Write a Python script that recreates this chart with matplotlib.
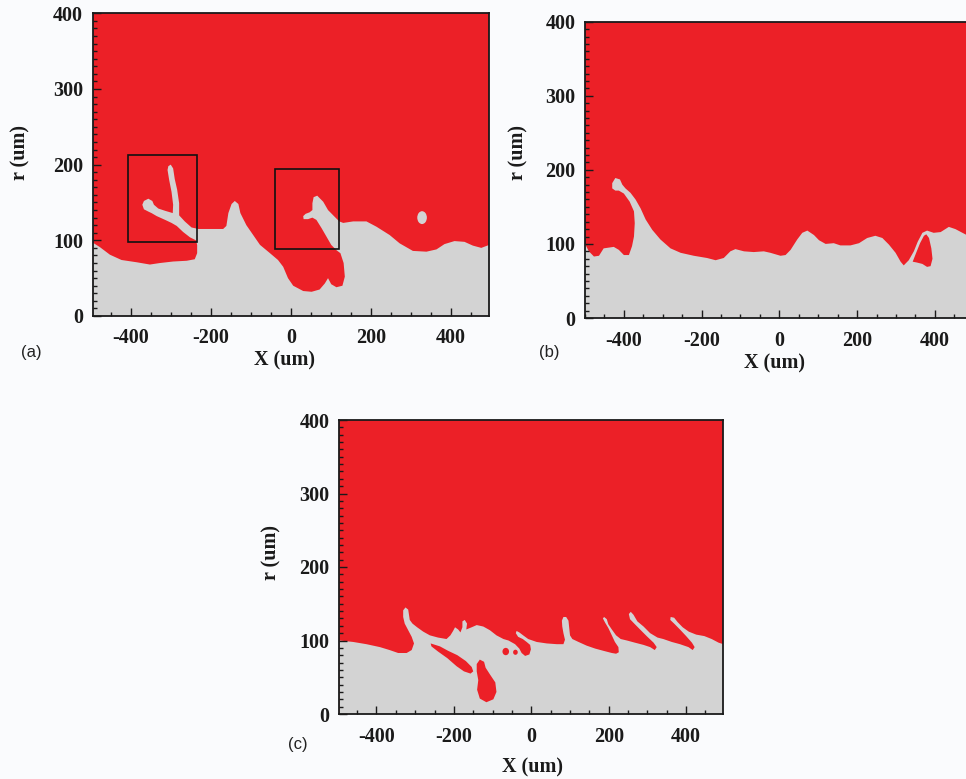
import numpy as np
import matplotlib
matplotlib.use('Agg')
import matplotlib.pyplot as plt
from matplotlib.patches import Ellipse, Rectangle
from matplotlib.ticker import MultipleLocator, FixedLocator

plt.rcParams['font.family'] = ['Liberation Serif', 'DejaVu Serif']
plt.rcParams['font.weight'] = 'bold'
plt.rcParams['axes.unicode_minus'] = False

RED = '#ec2027'
GRAY = '#d3d3d3'
BG = '#fafbfd'

x_ticks = [-400, -200, 0, 200, 400]
y_ticks = [0, 100, 200, 300, 400]
x_label = 'X (um)'
y_label = 'r (um)'
panel_names = ['(a)', '(b)', '(c)']

# ---- panel (a): liquid/gas interface (x, r) in um ----
a_interface = [(-495, 97), (-477, 91), (-452, 81), (-423, 74), (-385, 71), (-352, 68), (-327, 70),
               (-294, 72), (-260, 73), (-240, 75), (-234, 83), (-234, 94), (-237, 100), (-252, 104),
               (-269, 111), (-285, 119), (-298, 123), (-314, 127), (-335, 132), (-348, 136), (-356, 138),
               (-367, 141), (-371, 147), (-367, 152), (-356, 155), (-346, 152), (-342, 147), (-331, 142),
               (-314, 139), (-295, 136), (-294, 147), (-298, 164), (-304, 180), (-308, 193), (-306, 198),
               (-300, 200), (-294, 195), (-290, 181), (-284, 167), (-279, 149), (-279, 133), (-265, 125),
               (-248, 117), (-231, 115), (-194, 115), (-169, 115), (-161, 119), (-156, 136), (-148, 148),
               (-140, 152), (-131, 148), (-126, 136), (-111, 120), (-94, 107), (-77, 94), (-52, 83),
               (-32, 74), (-19, 65), (-7, 50), (6, 40), (31, 33), (52, 32), (72, 35), (85, 43), (93, 50),
               (101, 42), (114, 38), (129, 40), (135, 52), (132, 70), (124, 83), (114, 87), (101, 94),
               (89, 105), (77, 116), (64, 127), (54, 130), (43, 128), (32, 128), (31, 132), (37, 135),
               (47, 137), (54, 140), (54, 149), (57, 157), (66, 159), (81, 151), (93, 140), (106, 133),
               (121, 125), (131, 123), (156, 125), (189, 125), (214, 118), (247, 107), (272, 96),
               (305, 86), (339, 85), (364, 88), (384, 95), (409, 99), (434, 98), (455, 93), (476, 90),
               (496, 94)]
a_drop_center = (328, 130)
a_drop_size = (24, 17)
a_boxes = [(-406, 98, -235, 213), (-40, 88, 121, 194)]

# ---- panel (b) ----
b_interface = [(-500, 100), (-490, 90), (-477, 83), (-464, 84), (-452, 94), (-426, 96), (-413, 92),
               (-400, 85), (-387, 85), (-379, 97), (-374, 110), (-372, 128), (-374, 144), (-385, 157),
               (-400, 168), (-413, 172), (-422, 172), (-430, 175), (-430, 182), (-422, 189), (-410, 187),
               (-404, 180), (-396, 175), (-383, 169), (-370, 160), (-357, 148), (-344, 133), (-327, 119),
               (-306, 106), (-280, 94), (-254, 88), (-220, 84), (-186, 81), (-164, 78), (-143, 81),
               (-126, 90), (-113, 93), (-91, 90), (-66, 89), (-40, 90), (-23, 88), (3, 84), (16, 85),
               (29, 92), (46, 106), (59, 115), (72, 118), (89, 112), (102, 105), (119, 100), (140, 101),
               (157, 98), (183, 98), (205, 101), (226, 108), (247, 111), (265, 108), (282, 99), (299, 88),
               (312, 76), (320, 71), (333, 78), (346, 90), (356, 103), (368, 115), (380, 118), (397, 115),
               (415, 116), (436, 123), (453, 120), (471, 115), (482, 112), (500, 105)]
b_red_drop = [(343, 76), (352, 88), (362, 101), (372, 111), (378, 113), (385, 108), (391, 94),
              (394, 80), (389, 70), (380, 69), (368, 73), (353, 75)]

# ---- panel (c) ----
c_interface = [(-496, 100), (-460, 98), (-426, 95), (-391, 91), (-366, 87), (-344, 83), (-322, 83),
               (-309, 87), (-303, 96), (-309, 105), (-318, 114), (-327, 123), (-331, 132), (-331, 141),
               (-325, 145), (-318, 142), (-316, 135), (-314, 128), (-307, 123), (-295, 118), (-279, 112),
               (-262, 107), (-241, 104), (-219, 102), (-209, 107), (-202, 113), (-197, 118), (-189, 115),
               (-183, 111), (-178, 118), (-178, 126), (-172, 128), (-166, 123), (-168, 115), (-154, 118),
               (-141, 121), (-124, 119), (-107, 114), (-90, 107), (-72, 102), (-59, 100), (-42, 95),
               (-31, 89), (-25, 83), (-16, 79), (-5, 81), (-1, 88), (-3, 94), (-12, 98), (-22, 102),
               (-34, 105), (-40, 110), (-38, 113), (-31, 111), (-21, 107), (-8, 102), (14, 98), (40, 96),
               (66, 95), (83, 95), (87, 101), (83, 110), (80, 119), (79, 127), (83, 132), (90, 132),
               (96, 127), (98, 117), (100, 107), (106, 102), (122, 98), (143, 93), (165, 89), (186, 86),
               (208, 83), (219, 82), (226, 84), (225, 91), (216, 98), (208, 107), (199, 117), (191, 124),
               (185, 130), (188, 132), (195, 129), (199, 122), (208, 115), (219, 107), (231, 102),
               (247, 100), (268, 97), (290, 94), (307, 91), (319, 87), (324, 91), (316, 97), (298, 106),
               (281, 115), (266, 123), (255, 129), (252, 136), (257, 139), (264, 135), (274, 126),
               (290, 119), (307, 110), (326, 104), (341, 102), (363, 98), (384, 95), (406, 91), (417, 87),
               (422, 91), (415, 97), (400, 106), (384, 115), (369, 123), (359, 128), (360, 132), (369, 131),
               (378, 125), (391, 118), (407, 112), (426, 108), (447, 106), (466, 102), (484, 97), (496, 95)]
c_red_streak = [(-260, 96), (-236, 92), (-215, 86), (-191, 80), (-169, 72), (-154, 64), (-150, 58),
                (-157, 55), (-174, 58), (-193, 65), (-217, 76), (-241, 85), (-258, 92)]
c_red_tear = [(-133, 74), (-141, 68), (-141, 58), (-137, 46), (-140, 33), (-133, 21), (-116, 16),
              (-98, 20), (-90, 30), (-93, 43), (-107, 54), (-118, 63), (-122, 71)]
c_red_dots_center = [(-66, 85), (-41, 84)]
c_red_dots_size = [(17, 10), (12, 7)]

W, H = 966, 779
fig = plt.figure(figsize=(W / 100, H / 100), dpi=100, facecolor=BG)


def axes_px(left, top, right, bottom):
    return fig.add_axes([left / W, 1 - bottom / H, (right - left) / W, (bottom - top) / H])


def style(ax, xlim):
    ax.set_facecolor(RED)
    ax.set_xlim(*xlim)
    ax.set_ylim(0, 400)
    ax.xaxis.set_major_locator(FixedLocator(x_ticks))
    ax.yaxis.set_major_locator(FixedLocator(y_ticks))
    ax.xaxis.set_minor_locator(MultipleLocator(50))
    ax.yaxis.set_minor_locator(MultipleLocator(10))
    ax.tick_params(which='both', direction='in', top=False, right=False, width=1.0,
                   labelsize=14.5, colors='#1a1a1a')
    ax.tick_params(axis='y', pad=7)
    ax.tick_params(axis='x', pad=9)
    ax.tick_params(which='major', length=6)
    ax.tick_params(which='minor', length=3)
    for lab in ax.get_xticklabels() + ax.get_yticklabels():
        lab.set_fontweight('bold')
    for s in ax.spines.values():
        s.set_linewidth(1.3)
        s.set_color('#1a1a1a')
        s.set_zorder(10)


def fill_gray(ax, pts, xlim):
    xs = [xlim[0]] + [p[0] for p in pts] + [xlim[1]]
    ys = [0] + [p[1] for p in pts] + [0]
    ax.fill(xs, ys, color=GRAY, lw=0, zorder=1)


def fill_poly(ax, pts, color):
    ax.fill([p[0] for p in pts], [p[1] for p in pts], color=color, lw=0, zorder=2)


# (a)
xa = (-495, 496)
ax_a = axes_px(92.7, 13.3, 489.3, 316)
style(ax_a, xa)
fill_gray(ax_a, a_interface, xa)
ax_a.add_patch(Ellipse(a_drop_center, a_drop_size[0], a_drop_size[1], color=GRAY, lw=0, zorder=2))
for x0, y0, x1, y1 in a_boxes:
    ax_a.add_patch(Rectangle((x0, y0), x1 - x0, y1 - y0, fill=False, ec='#111111', lw=1.2, zorder=5))

# (b)
xb = (-500, 500)
ax_b = axes_px(585, 21.7, 973.7, 318)
style(ax_b, xb)
fill_gray(ax_b, b_interface, xb)
fill_poly(ax_b, b_red_drop, RED)

# (c)
xc = (-496, 496)
ax_c = axes_px(339.3, 420, 723.3, 714)
style(ax_c, xc)
fill_gray(ax_c, c_interface, xc)
fill_poly(ax_c, c_red_streak, RED)
fill_poly(ax_c, c_red_tear, RED)
for c, s in zip(c_red_dots_center, c_red_dots_size):
    ax_c.add_patch(Ellipse(c, s[0], s[1], color=RED, lw=0, zorder=2))

# axis titles
lab_kw = dict(fontsize=14.5, fontweight='bold', color='#1a1a1a', ha='center', va='center')
for (xl, yl), (xr, yr) in [((285, 360), (20, 153)), ((775, 363), (518, 152)), ((532, 767), (271, 553))]:
    fig.text(xl / W, 1 - yl / H, x_label, **lab_kw)
    fig.text(xr / W, 1 - yr / H, y_label, rotation=90, **lab_kw)

for name, (px, py) in zip(panel_names, [(31, 352), (549, 352), (298, 745)]):
    fig.text(px / W, 1 - py / H, name, fontsize=12, fontweight='normal',
             family='Liberation Sans', color='#222222', ha='center', va='center')

fig.savefig('out.png', dpi=100, facecolor=BG)
